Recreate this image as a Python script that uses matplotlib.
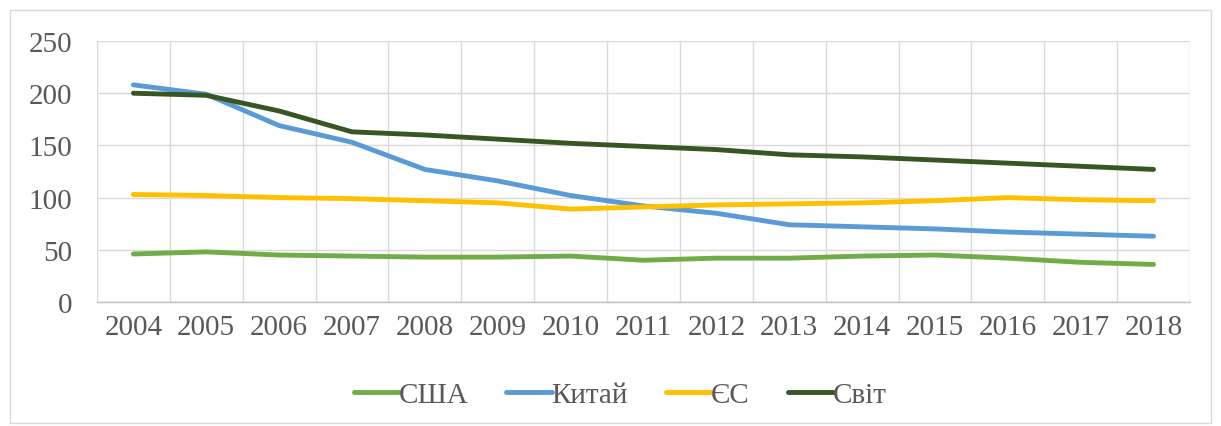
import numpy as np
import matplotlib
matplotlib.use("Agg")
import matplotlib.pyplot as plt
from matplotlib.patches import Rectangle

# Data
years = [2004, 2005, 2006, 2007, 2008, 2009, 2010, 2011, 2012, 2013, 2014, 2015, 2016, 2017, 2018]
usa = [46, 48, 45, 44, 43, 43, 44, 40, 42, 42, 44, 45, 42, 38, 36]
china = [208, 199, 169, 153, 127, 116, 102, 92, 85, 74, 72, 70, 67, 65, 63]
eu = [103, 102, 100, 99, 97, 95, 89, 91, 93, 94, 95, 97, 100, 98, 97]
world = [200, 198, 183, 163, 160, 156, 152, 149, 146, 141, 139, 136, 133, 130, 127]

series_names = ["США", "Китай", "ЄС", "Світ"]
series_values = [usa, china, eu, world]
colors = ["#70AD47", "#5B9BD5", "#FFC000", "#375623"]

plt.rcParams["font.family"] = ["Liberation Serif", "DejaVu Serif"]
text_color = "#595959"

fig = plt.figure(figsize=(12.21, 4.27), dpi=100)
ax = fig.add_axes([0.0794, 0.2904, 0.8952, 0.6112])

x = np.arange(len(years))
for name, vals, col in zip(series_names, series_values, colors):
    ax.plot(x, vals, color=col, linewidth=3.5, label=name,
            solid_capstyle="round", solid_joinstyle="round")

ax.set_xlim(-0.5, len(years) - 0.5)
ax.set_ylim(0, 250)
ax.set_yticks(np.arange(0, 251, 50))
ax.set_xticks(x)
ax.set_xticklabels([str(y) for y in years])
ax.set_xticks(np.arange(-0.5, len(years), 1.0), minor=True)

# Excel-like gridlines
ax.grid(True, axis="y", which="major", color="#D9D9D9", linewidth=1.0)
ax.grid(True, axis="x", which="minor", color="#D9D9D9", linewidth=1.0)
ax.grid(False, axis="x", which="major")
ax.set_axisbelow(True)

for side in ["top", "right", "left"]:
    ax.spines[side].set_visible(False)
ax.spines["bottom"].set_color("#BFBFBF")
ax.spines["bottom"].set_linewidth(1.0)

ax.tick_params(axis="both", which="both", length=0, labelsize=21, colors=text_color)
ax.tick_params(axis="y", pad=18)
ax.tick_params(axis="x", pad=9)

fig.legend(loc="center", bbox_to_anchor=(0.508, 0.072), ncol=4, frameon=False,
           fontsize=21, handlelength=1.55, handletextpad=0.0, columnspacing=1.3,
           labelcolor=text_color)

# light chart-area border
fig.patches.append(Rectangle((0.008, 0.006), 0.984, 0.968, transform=fig.transFigure,
                             fill=False, edgecolor="#D9D9D9", linewidth=1.0))

fig.savefig("out.png", dpi=100, facecolor="white")
